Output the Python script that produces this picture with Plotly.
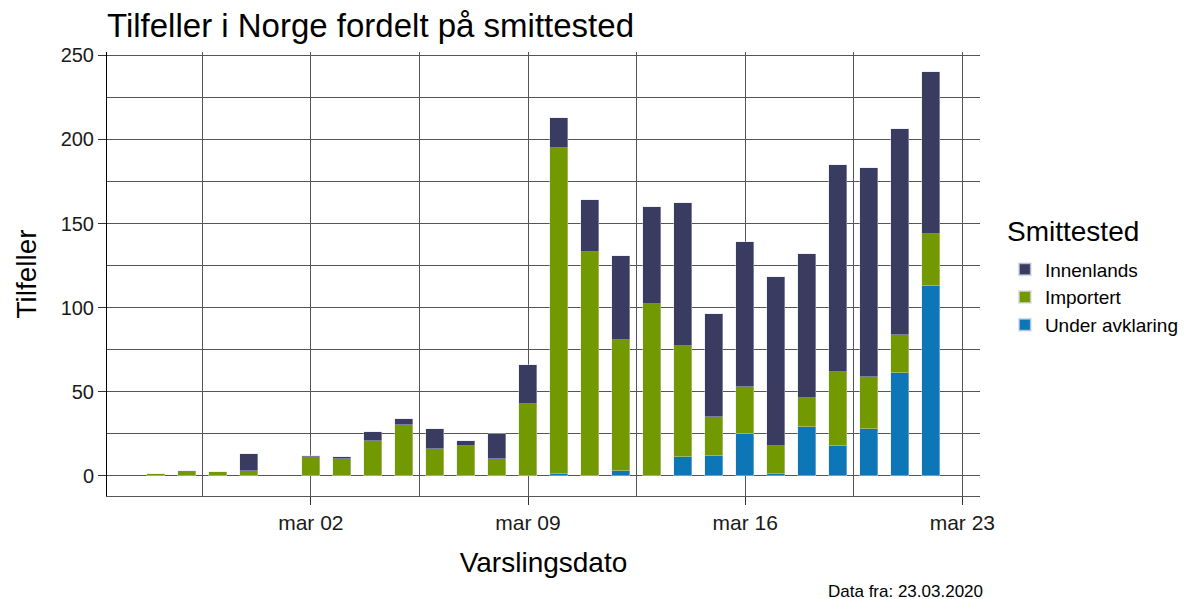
import plotly.graph_objects as go

dates = ["2020-02-26", "2020-02-27", "2020-02-28", "2020-02-29",
         "2020-03-02", "2020-03-03", "2020-03-04", "2020-03-05", "2020-03-06",
         "2020-03-07", "2020-03-08", "2020-03-09", "2020-03-10", "2020-03-11",
         "2020-03-12", "2020-03-13", "2020-03-14", "2020-03-15", "2020-03-16",
         "2020-03-17", "2020-03-18", "2020-03-19", "2020-03-20", "2020-03-21",
         "2020-03-22"]
under_avklaring = [0, 0, 0, 0, 0, 0, 0, 0, 0, 0, 0, 0, 1, 0, 3, 0, 11, 12, 25, 1, 29, 18, 28, 61, 113]
importert = [1, 2, 2, 3, 11, 10, 21, 30, 16, 18, 10, 43, 194, 133, 78, 102, 66, 23, 28, 17, 17, 44, 31, 23, 31]
innenlands = [0, 1, 0, 10, 1, 1, 5, 4, 12, 3, 15, 23, 18, 31, 50, 58, 85, 61, 86, 100, 86, 123, 124, 122, 96]

tick_vals = ["2020-03-02", "2020-03-09", "2020-03-16", "2020-03-23"]
tick_text = ["mar 02", "mar 09", "mar 16", "mar 23"]
y_ticks = [0, 50, 100, 150, 200, 250]

colors = {"Innenlands": "#393B61", "Importert": "#729A00", "Under avklaring": "#0C76B7"}
FONT = "Liberation Sans, Arial, sans-serif"
BAR_WIDTH_MS = 0.58 * 86400000


def nz(vals):
    return [v if v else None for v in vals]


fig = go.Figure()
for name, vals in [("Under avklaring", under_avklaring), ("Importert", importert), ("Innenlands", innenlands)]:
    fig.add_trace(go.Bar(
        x=dates, y=nz(vals), name=name, width=BAR_WIDTH_MS,
        marker=dict(color=colors[name], line=dict(color="rgba(220,220,235,0.7)", width=0.6)),
    ))

grid_col = "#555555"
fig.update_layout(
    barmode="stack",
    width=1199, height=599,
    plot_bgcolor="white", paper_bgcolor="white",
    margin=dict(l=99, r=227, t=44, b=111, autoexpand=False),
    font=dict(family=FONT, color="#000000"),
    title=dict(text="Tilfeller i Norge fordelt på smittested", x=99 / 1199, xanchor="left",
               xref="container", y=1 - 17 / 599, yanchor="middle", yref="container",
               font=dict(size=33, color="#000000", family=FONT)),
    legend=dict(
        traceorder="reversed",
        x=1.0285, xanchor="left", y=0.553, yanchor="top",
        font=dict(size=19, color="#000000"),
        itemsizing="constant", tracegroupgap=0,
        bgcolor="rgba(0,0,0,0)",
    ),
    bargap=0,
)
fig.update_xaxes(
    type="date", automargin=False,
    range=["2020-02-24 10:19", "2020-03-23 13:40"],
    tickvals=tick_vals, ticktext=tick_text,
    tickfont=dict(size=21, color="#1a1a1a"),
    ticks="outside", ticklen=8, tickcolor="#333333", tickwidth=1,
    showgrid=True, gridcolor=grid_col, gridwidth=1.3,
    minor=dict(tick0="2020-02-27 12:00", dtick=7 * 86400000, showgrid=True,
               gridcolor=grid_col, gridwidth=1.3),
    showline=True, linecolor=grid_col, linewidth=1.3,
    zeroline=False,
    title=dict(text="Varslingsdato", font=dict(size=28, color="#000000"), standoff=19),
)
fig.update_yaxes(
    automargin=False,
    range=[-12, 252],
    tickvals=y_ticks,
    tickfont=dict(size=20, color="#1a1a1a"),
    ticks="outside", ticklen=8, tickcolor="#333333", tickwidth=1,
    showgrid=True, gridcolor=grid_col, gridwidth=1.3,
    minor=dict(tick0=25, dtick=50, showgrid=True, gridcolor=grid_col, gridwidth=1.3),
    showline=True, linecolor="#000000", linewidth=1,
    zeroline=False,
    title=dict(text="Tilfeller", font=dict(size=28, color="#000000"), standoff=15),
)
fig.add_annotation(
    text="Smittested", xref="paper", yref="paper",
    x=1.0286, xanchor="left", y=0.5946, yanchor="middle",
    showarrow=False, font=dict(size=28, color="#000000"),
)
fig.add_annotation(
    text="Data fra: 23.03.2020", xref="paper", yref="paper",
    x=1.006, xanchor="right", y=-0.216, yanchor="middle",
    showarrow=False, font=dict(size=17, color="#000000"),
)
fig.write_html("out.html")
